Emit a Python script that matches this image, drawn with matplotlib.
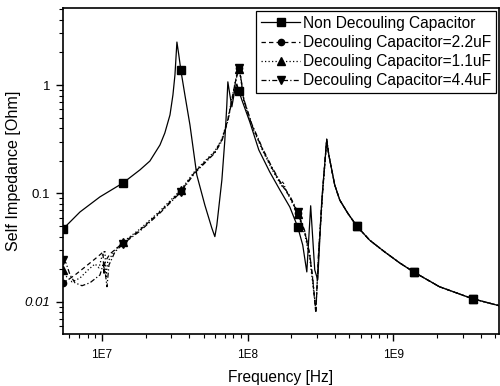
import numpy as np
import matplotlib
matplotlib.use("Agg")
import matplotlib.pyplot as plt
from matplotlib.ticker import LogLocator, NullFormatter

plt.rcParams['font.family'] = ['Liberation Sans', 'DejaVu Sans']

series_labels = ["Non Decouling Capacitor", "Decouling Capacitor=2.2uF",
                 "Decouling Capacitor=1.1uF", "Decouling Capacitor=4.4uF"]

# shared high-frequency tail (all curves coincide)
tail_freq = [3.61e8, 3.78e8, 3.96e8, 4.29e8, 4.86e8, 5.61e8, 6.89e8, 8.72e8,
             1.104e9, 1.377e9, 2.07e9, 3.49e9, 5.35e9]
tail_z = [0.226, 0.165, 0.120, 0.087, 0.066, 0.050, 0.037, 0.0289,
          0.0229, 0.0189, 0.0138, 0.0107, 0.0092]

freq_non = [5.43e6, 7.10e6, 9.73e6, 1.40e7, 1.83e7, 2.14e7, 2.51e7, 2.71e7, 2.94e7,
            3.08e7, 3.18e7, 3.28e7, 3.38e7, 3.49e7, 3.72e7, 4.03e7, 4.49e7, 5.10e7,
            5.69e7, 5.97e7, 6.16e7, 6.67e7, 6.99e7, 7.21e7, 7.33e7, 7.57e7, 7.81e7,
            8.18e7, 8.45e7, 8.72e7, 9.14e7, 1.037e8, 1.195e8, 1.42e8, 1.665e8, 1.95e8,
            2.21e8, 2.39e8, 2.55e8, 2.71e8, 2.89e8, 3.03e8, 3.23e8, 3.49e8]
z_non = [0.047, 0.0675, 0.093, 0.125, 0.165, 0.199, 0.280, 0.361, 0.53,
         0.81, 1.24, 2.49, 1.89, 1.37, 0.81, 0.428, 0.148, 0.078,
         0.048, 0.040, 0.051, 0.133, 0.311, 0.65, 1.07, 0.81, 0.63,
         0.90, 1.02, 0.88, 0.73, 0.456, 0.252, 0.158, 0.108, 0.075,
         0.049, 0.0335, 0.0189, 0.077, 0.0197, 0.016, 0.087, 0.311]

freq_22 = [5.43e6, 5.88e6, 6.56e6, 7.69e6, 9.0e6, 9.89e6, 1.021e7, 1.037e7, 1.053e7, 1.14e7,
           1.40e7, 1.83e7, 2.51e7, 3.49e7, 4.36e7, 5.10e7, 5.97e7, 6.67e7, 7.33e7, 7.81e7,
           8.18e7, 8.45e7, 8.72e7, 9.0e7, 9.43e7, 1.07e8, 1.273e8, 1.467e8, 1.665e8, 1.95e8,
           2.21e8, 2.47e8, 2.67e8, 2.80e8, 2.94e8, 3.08e8, 3.28e8, 3.49e8]
z_22 = [0.0150, 0.0160, 0.0177, 0.021, 0.0249, 0.0277, 0.0289, 0.0177, 0.0234, 0.0277,
        0.035, 0.046, 0.0675, 0.105, 0.158, 0.195, 0.241, 0.311, 0.476, 0.73,
        1.0, 1.24, 1.43, 1.16, 0.73, 0.428, 0.252, 0.172, 0.128, 0.093,
        0.066, 0.044, 0.0271, 0.016, 0.0079, 0.030, 0.108, 0.311]

freq_11 = [5.43e6, 5.69e6, 6.26e6, 7.10e6, 8.06e6, 9.0e6, 9.58e6, 1.005e7, 1.053e7, 1.07e7,
           1.10e7, 1.233e7, 1.40e7, 1.83e7, 2.51e7, 3.49e7, 4.36e7, 5.10e7, 5.97e7, 6.67e7,
           7.33e7, 7.81e7, 8.18e7, 8.45e7, 8.72e7, 9.0e7, 9.43e7, 1.07e8, 1.273e8, 1.467e8,
           1.665e8, 1.718e8, 1.745e8, 1.83e8, 1.95e8, 2.21e8, 2.47e8, 2.67e8, 2.80e8, 2.94e8,
           3.08e8, 3.28e8, 3.49e8]
z_11 = [0.0197, 0.0173, 0.0153, 0.0166, 0.0197, 0.0224, 0.0206, 0.0265, 0.030, 0.0166,
        0.0234, 0.030, 0.0357, 0.047, 0.069, 0.108, 0.161, 0.199, 0.246, 0.318,
        0.486, 0.743, 1.02, 1.26, 1.40, 1.14, 0.71, 0.42, 0.246, 0.168,
        0.125, 0.117, 0.130, 0.108, 0.091, 0.065, 0.042, 0.0255, 0.0147, 0.0085,
        0.029, 0.105, 0.305]

freq_44 = [5.43e6, 5.69e6, 6.07e6, 6.56e6, 7.33e6, 8.31e6, 9.14e6, 9.73e6, 1.021e7, 1.053e7,
           1.087e7, 1.122e7, 1.233e7, 1.40e7, 1.83e7, 2.51e7, 3.49e7, 4.36e7, 5.10e7, 5.97e7,
           6.67e7, 7.33e7, 7.81e7, 8.18e7, 8.45e7, 8.72e7, 9.0e7, 9.43e7, 1.07e8, 1.273e8,
           1.467e8, 1.665e8, 1.95e8, 2.21e8, 2.47e8, 2.67e8, 2.80e8, 2.94e8, 3.08e8, 3.28e8,
           3.49e8]
z_44 = [0.0244, 0.0229, 0.0177, 0.0150, 0.0141, 0.0150, 0.0166, 0.0177, 0.0219, 0.0197,
        0.0138, 0.0219, 0.0289, 0.0343, 0.045, 0.066, 0.103, 0.155, 0.191, 0.236,
        0.305, 0.466, 0.71, 0.98, 1.21, 1.43, 1.18, 0.74, 0.437, 0.257,
        0.176, 0.13, 0.095, 0.0675, 0.045, 0.0277, 0.0166, 0.0081, 0.031, 0.110,
        0.318]

marker_freqs = [5.43e6, 1.40e7, 3.49e7, 8.72e7, 2.21e8, 5.61e8, 1.377e9, 3.49e9]

x_ticks = [1e7, 1e8, 1e9]
x_ticklabels = ["1E7", "1E8", "1E9"]
y_ticks = [0.01, 0.1, 1]
y_ticklabels = ["0.01", "0.1", "1"]

fig = plt.figure(figsize=(5.0, 3.86), dpi=100)
ax = fig.add_axes([0.126, 0.135, 0.872, 0.844])

styles = [
    dict(ls='-', marker='s', ms=5.5),
    dict(ls=(0, (3.5, 2.5)), marker='o', ms=4.5),
    dict(ls=(0, (1, 1.8)), marker='^', ms=6),
    dict(ls=(0, (4, 1.8, 1, 1.8)), marker='v', ms=6),
]
all_data = [(freq_non, z_non), (freq_22, z_22), (freq_11, z_11), (freq_44, z_44)]

for (fr, zz), st, lab in zip(all_data, styles, series_labels):
    f = np.array(list(fr) + tail_freq)
    z = np.array(list(zz) + tail_z)
    lf = np.log10(f)
    idx = sorted({int(np.argmin(np.abs(lf - np.log10(m)))) for m in marker_freqs})
    ax.plot(f, z, color='black', lw=0.9, linestyle=st['ls'], marker=st['marker'],
            ms=st['ms'], markevery=idx, mfc='black', mec='black', label=lab)

ax.set_xscale('log')
ax.set_yscale('log')
ax.set_xlim(5.43e6, 5.3e9)
ax.set_ylim(0.00507, 5.12)

ax.set_xticks(x_ticks)
ax.set_xticklabels(x_ticklabels)
ax.set_yticks(y_ticks)
ax.set_yticklabels(y_ticklabels)
ax.xaxis.set_minor_locator(LogLocator(base=10, subs=np.arange(2, 10)))
ax.yaxis.set_minor_locator(LogLocator(base=10, subs=np.arange(2, 10)))
ax.xaxis.set_minor_formatter(NullFormatter())
ax.yaxis.set_minor_formatter(NullFormatter())
ax.tick_params(axis='both', which='major', direction='out', length=5, width=1)
ax.tick_params(axis='both', which='minor', direction='out', length=3, width=0.8)
ax.tick_params(axis='x', which='major', labelsize=8.5, pad=6)
ax.tick_params(axis='y', which='major', labelsize=9.5, pad=4)
for lbl in ax.get_yticklabels():
    if lbl.get_text() == "0.01":
        lbl.set_fontstyle('italic')

for sp in ax.spines.values():
    sp.set_linewidth(1.2)

ax.set_xlabel("Frequency [Hz]", fontsize=11.2, labelpad=6)
ax.set_ylabel("Self Impedance [Ohm]", fontsize=11.6, labelpad=3)

leg = ax.legend(loc='upper right', bbox_to_anchor=(1.0, 1.0), borderaxespad=0.2,
                fontsize=11.2, frameon=True, fancybox=False, framealpha=1,
                edgecolor='black', handlelength=2.5, handletextpad=0.2,
                labelspacing=0.27, borderpad=0.3, numpoints=1)
leg.get_frame().set_linewidth(0.9)

fig.savefig("out.png", dpi=100)
